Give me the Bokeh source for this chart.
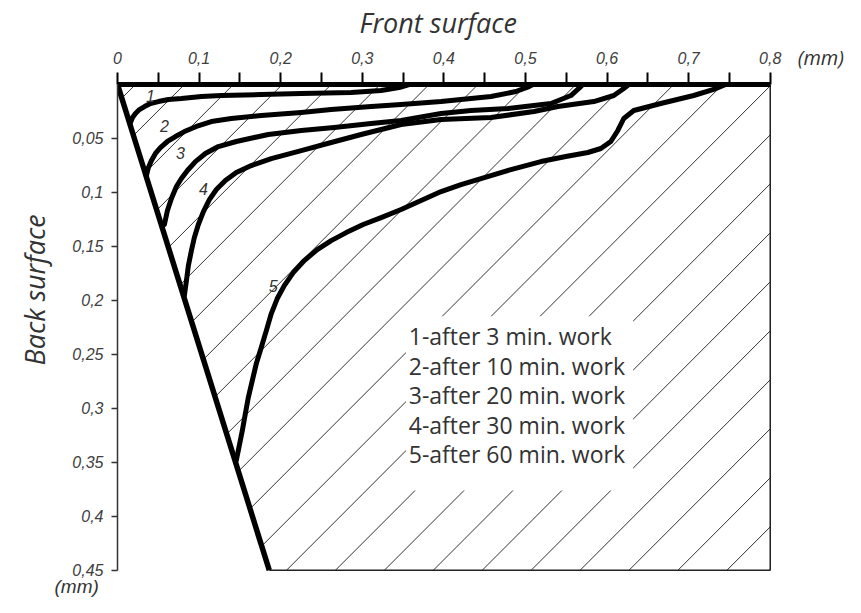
import numpy as np
from bokeh.plotting import figure
from bokeh.models import Range1d, FixedTicker, LinearAxis, Title
from bokeh.core.properties import value
from bokeh.embed import file_html
from bokeh.resources import INLINE

# ---------------- data ----------------
curve_labels = ["1", "2", "3", "4", "5"]
legend_texts = ["1-after 3 min. work", "2-after 10 min. work", "3-after 20 min. work",
                "4-after 30 min. work", "5-after 60 min. work"]

# wear curves (x = along front surface, mm ; y = along back surface, mm)
x1 = [0.0159, 0.0184, 0.0220, 0.0269, 0.0331, 0.0404, 0.0502, 0.0624, 0.0783, 0.1028, 0.1273,
      0.1762, 0.2252, 0.2864, 0.3231, 0.3451, 0.3574]
y1 = [0.0352, 0.0306, 0.0269, 0.0232, 0.0204, 0.0176, 0.0158, 0.0139, 0.0130, 0.0111, 0.0102,
      0.0093, 0.0083, 0.0074, 0.0056, 0.0028, 0.0]

x2 = [0.0355, 0.0379, 0.0416, 0.0465, 0.0526, 0.0612, 0.0710, 0.0820, 0.0967, 0.1150, 0.1395,
      0.1762, 0.2252, 0.2619, 0.3109, 0.3476, 0.3966, 0.4577, 0.4883, 0.5043, 0.5091]
y2 = [0.0843, 0.0769, 0.0704, 0.0639, 0.0584, 0.0528, 0.0482, 0.0436, 0.0389, 0.0343, 0.0315,
      0.0287, 0.0259, 0.0232, 0.0204, 0.0185, 0.0158, 0.0111, 0.0065, 0.0019, 0.0]

x3 = [0.0575, 0.0612, 0.0661, 0.0722, 0.0783, 0.0857, 0.0955, 0.1077, 0.1236, 0.1456, 0.1848,
      0.2252, 0.2656, 0.3109, 0.3476, 0.3966, 0.4333, 0.4786, 0.5312, 0.5557, 0.5654, 0.5703]
y3 = [0.1297, 0.1168, 0.1056, 0.0945, 0.0871, 0.0797, 0.0714, 0.0639, 0.0575, 0.0528, 0.0463,
      0.0426, 0.0398, 0.0361, 0.0334, 0.0269, 0.0241, 0.0222, 0.0176, 0.0102, 0.0037, 0.0]

x4 = [0.0820, 0.0845, 0.0869, 0.0906, 0.0942, 0.0991, 0.1053, 0.1126, 0.1212, 0.1322, 0.1456,
      0.1640, 0.1885, 0.2252, 0.2619, 0.2986, 0.3476, 0.3966, 0.4577, 0.5104, 0.5397, 0.5838,
      0.6083, 0.6205, 0.6266]
y4 = [0.1955, 0.1816, 0.1677, 0.1538, 0.1418, 0.1297, 0.1177, 0.1066, 0.0973, 0.0890, 0.0815,
      0.0751, 0.0686, 0.0612, 0.0537, 0.0463, 0.0371, 0.0324, 0.0306, 0.0250, 0.0204, 0.0158,
      0.0102, 0.0037, 0.0]

x5 = [0.1456, 0.1493, 0.1530, 0.1567, 0.1603, 0.1652, 0.1701, 0.1762, 0.1824, 0.1885, 0.1958,
      0.2044, 0.2154, 0.2289, 0.2448, 0.2619, 0.2803, 0.3011, 0.3231, 0.3476, 0.3721, 0.3966,
      0.4210, 0.4455, 0.4822, 0.5189, 0.5495, 0.5765, 0.5924, 0.6046, 0.6132, 0.6205, 0.6328,
      0.6658, 0.7062, 0.7307, 0.7454]
y5 = [0.3484, 0.3345, 0.3206, 0.3049, 0.2901, 0.2743, 0.2586, 0.2437, 0.2280, 0.2122, 0.1983,
      0.1863, 0.1742, 0.1631, 0.1529, 0.1446, 0.1372, 0.1297, 0.1233, 0.1158, 0.1075, 0.0992,
      0.0927, 0.0871, 0.0788, 0.0714, 0.0667, 0.0630, 0.0593, 0.0528, 0.0426, 0.0315, 0.0241,
      0.0176, 0.0102, 0.0046, 0.0]

# tool profile (flank tip -> bottom -> right)
profile_x = [0.0, 0.186, 0.8, 0.8]
profile_y = [0.0, 0.45, 0.45, 0.0]

x_ticks = [0.0, 0.1, 0.2, 0.3, 0.4, 0.5, 0.6, 0.7, 0.8]
x_tick_labels = ["0", "0,1", "0,2", "0,3", "0,4", "0,5", "0,6", "0,7", "0,8"]
x_minor = [0.05, 0.15, 0.25, 0.35, 0.45, 0.55, 0.65, 0.75]
y_ticks = [0.05, 0.1, 0.15, 0.2, 0.25, 0.3, 0.35, 0.4, 0.45]
y_tick_labels = ["0,05", "0,1", "0,15", "0,2", "0,25", "0,3", "0,35", "0,4", "0,45"]
unit_label = "(mm)"
unit_pos = 0.862

# ---------------- layout ----------------
W, H = 845, 597
ML, MT = 116, 84
FW, FH = 719, 489
MR, MB = W - ML - FW, H - MT - FH
XR = (0.0, 0.88)
YR = (0.453, 0.0)

p = figure(width=W, height=H, x_range=Range1d(*XR), y_range=Range1d(*YR), title=None,
           x_axis_location="above", toolbar_location=None, output_backend="svg",
           min_border_left=ML, min_border_right=MR, min_border_top=MT, min_border_bottom=MB)
p.outline_line_color = None
p.grid.visible = False
p.background_fill_color = "white"

# ---------------- hatch (45 deg on screen) ----------------
sx = FW / (XR[1] - XR[0])
sy = FH / (YR[0] - YR[1])
kf = profile_x[1] / profile_y[1]
xmax = profile_x[2]
ybot = profile_y[1]
hx, hy = [], []
d = 18.0
dmax = sx * xmax + sy * ybot
while d < dmax:
    ylo = max(0.0, (d - sx * xmax) / sy)
    yhi = min(ybot, d / (sy + sx * kf))
    if yhi > ylo:
        hx.append([(d - sy * ylo) / sx, (d - sy * yhi) / sx])
        hy.append([ylo, yhi])
    d += 49.0
p.multi_line(hx, hy, line_color="#333333", line_width=1)

# white text box behind legend
p.quad(left=0.3535, right=0.632, top=0.2148, bottom=0.376, fill_color="white", line_color=None)

# tool outline
p.line(profile_x[:2], profile_y[:2], line_color="black", line_width=5.5)
p.line(profile_x[1:], profile_y[1:], line_color="#222222", line_width=1.5)

# wear curves
for xs, ys in [(x1, y1), (x2, y2), (x3, y3), (x4, y4), (x5, y5)]:
    p.line(xs, ys, line_color="black", line_width=5, line_join="round", line_cap="round")

# curve number labels
lab_x = [0.0404, 0.0575, 0.0771, 0.1052, 0.1908]
lab_y = [0.0102, 0.0380, 0.0630, 0.0972, 0.1870]
p.text(x=lab_x, y=lab_y, text=curve_labels, text_font=value("Liberation Sans"),
       text_font_style="italic", text_font_size="16px", text_color="#333333",
       text_align="center", text_baseline="middle")

# legend text box
leg_y = [0.2333 + 0.0273 * i for i in range(len(legend_texts))]
p.text(x=[0.357] * len(legend_texts), y=leg_y, text=legend_texts, text_font=value("Open Sans"),
       text_font_size="23px", text_color="#333333", text_align="left", text_baseline="middle")

# ---------------- axes ----------------
xa = p.xaxis[0]
xa.ticker = FixedTicker(ticks=x_ticks, minor_ticks=x_minor)
xa.major_label_overrides = dict(zip(x_ticks, x_tick_labels))
xa.bounds = (0.0, 0.8)
xa.axis_line_width = 5
xa.axis_line_color = "black"
xa.major_tick_in = 0
xa.major_tick_out = 12
xa.minor_tick_in = 0
xa.minor_tick_out = 12
xa.major_tick_line_width = 2
xa.minor_tick_line_width = 2
xa.major_tick_line_color = "black"
xa.minor_tick_line_color = "black"
xa.major_label_standoff = 9
xa.major_label_text_font = "Liberation Sans"
xa.major_label_text_font_style = "italic"
xa.major_label_text_font_size = "16px"
xa.major_label_text_color = "#404040"

# outer axis carrying only the unit label
ua = LinearAxis(ticker=FixedTicker(ticks=[unit_pos], minor_ticks=[]),
                major_label_overrides={unit_pos: unit_label},
                axis_line_color=None, major_tick_line_color=None, minor_tick_line_color=None,
                major_tick_in=0, major_tick_out=0, minor_tick_in=0, minor_tick_out=0,
                major_label_standoff=-22, major_label_text_font="Open Sans",
                major_label_text_font_style="italic", major_label_text_font_size="20px",
                major_label_text_color="#333333")
p.add_layout(ua, "above")

p.add_layout(Title(text="Front surface", align="left", offset=242, standoff=0,
                   text_font="Open Sans", text_font_style="italic", text_font_size="27px",
                   text_color="#333333"), "above")

ya = p.yaxis[0]
ya.ticker = FixedTicker(ticks=y_ticks, minor_ticks=[])
ya.major_label_overrides = dict(zip(y_ticks, y_tick_labels))
ya.bounds = (0.0, 0.45)
ya.axis_line_width = 1.5
ya.axis_line_color = "#333333"
ya.major_tick_in = 0
ya.major_tick_out = 6
ya.major_tick_line_width = 1.5
ya.major_tick_line_color = "#333333"
ya.minor_tick_line_color = None
ya.major_label_standoff = 8
ya.major_label_text_font = "Liberation Sans"
ya.major_label_text_font_style = "italic"
ya.major_label_text_font_size = "16px"
ya.major_label_text_color = "#404040"

p.add_layout(Title(text="Back surface", align="left", offset=208, standoff=30, vertical_align="top",
                   text_font="Open Sans", text_font_style="italic", text_font_size="27px",
                   text_color="#333333"), "left")

p.add_layout(Title(text=unit_label, align="left", offset=-63, standoff=0,
                   text_font="Liberation Sans", text_font_style="italic", text_font_size="19px",
                   text_color="#333333"), "below")

open("out.html", "w").write(file_html(p, INLINE))
